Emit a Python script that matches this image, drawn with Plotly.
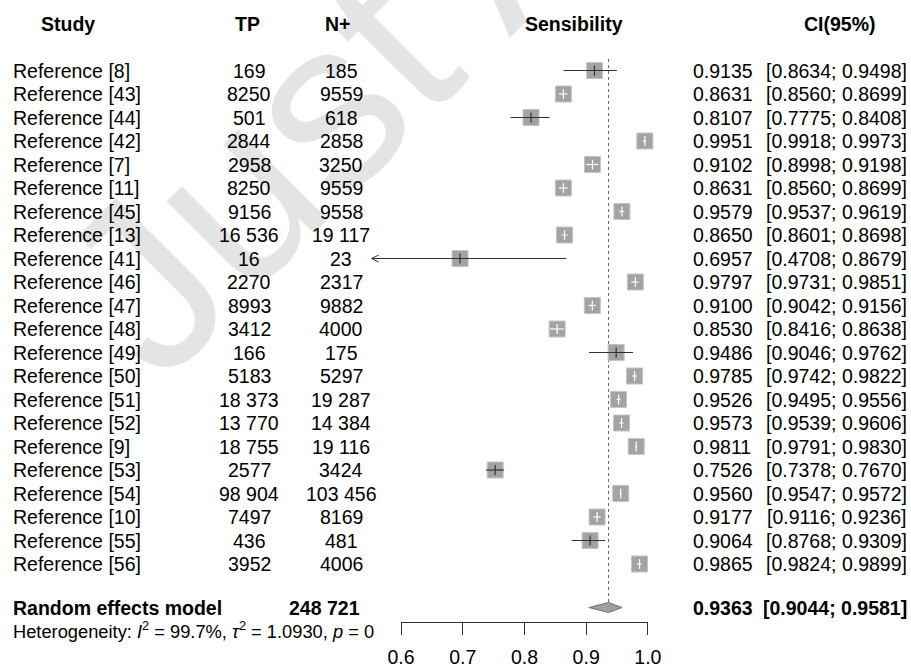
import plotly.graph_objects as go

# ---------------- data ----------------
studies = ["Reference [8]", "Reference [43]", "Reference [44]", "Reference [42]", "Reference [7]",
           "Reference [11]", "Reference [45]", "Reference [13]", "Reference [41]", "Reference [46]",
           "Reference [47]", "Reference [48]", "Reference [49]", "Reference [50]", "Reference [51]",
           "Reference [52]", "Reference [9]", "Reference [53]", "Reference [54]", "Reference [10]",
           "Reference [55]", "Reference [56]"]
tp = ["169", "8250", "501", "2844", "2958", "8250", "9156", "16 536", "16", "2270", "8993",
      "3412", "166", "5183", "18 373", "13 770", "18 755", "2577", "98 904", "7497", "436", "3952"]
n_pos = ["185", "9559", "618", "2858", "3250", "9559", "9558", "19 117", "23", "2317", "9882",
         "4000", "175", "5297", "19 287", "14 384", "19 116", "3424", "103 456", "8169", "481", "4006"]
sens = [0.9135, 0.8631, 0.8107, 0.9951, 0.9102, 0.8631, 0.9579, 0.8650, 0.6957, 0.9797, 0.9100,
        0.8530, 0.9486, 0.9785, 0.9526, 0.9573, 0.9811, 0.7526, 0.9560, 0.9177, 0.9064, 0.9865]
ci_lo = [0.8634, 0.8560, 0.7775, 0.9918, 0.8998, 0.8560, 0.9537, 0.8601, 0.4708, 0.9731, 0.9042,
         0.8416, 0.9046, 0.9742, 0.9495, 0.9539, 0.9791, 0.7378, 0.9547, 0.9116, 0.8768, 0.9824]
ci_hi = [0.9498, 0.8699, 0.8408, 0.9973, 0.9198, 0.8699, 0.9619, 0.8698, 0.8679, 0.9851, 0.9156,
         0.8638, 0.9762, 0.9822, 0.9556, 0.9606, 0.9830, 0.7670, 0.9572, 0.9236, 0.9309, 0.9899]
re_label = "Random effects model"
re_est, re_lo, re_hi = 0.9363, 0.9044, 0.9581
re_total = "248 721"
het_i2, het_tau2, het_p = "99.7%", "1.0930", "0"
tick_vals = [0.6, 0.7, 0.8, 0.9, 1.0]
headers = ["Study", "TP", "N+", "Sensibility", "CI(95%)"]
watermark = "Just Accepted"

# ---------------- geometry ----------------
W, H = 911, 668
X0_PX, PX_PER_UNIT = 401.0, 617.2      # pixel of 0.6, pixels per unit
ROW0_PX, ROW_PX = 70.5, 23.5           # pixel of first row, row pitch
XLIM_LO = 0.5525                        # lower clipping limit of the forest


def px2v(px):
    return 0.6 + (px - X0_PX) / PX_PER_UNIT


def px2row(py):
    return (py - ROW0_PX) / ROW_PX


x_range = [px2v(0), px2v(W)]
y_range = [px2row(H), px2row(0)]
rows = list(range(len(studies)))
re_row = px2row(607.5)
het_row = px2row(629.5)
head_row = px2row(23.5)
SQ = 16  # square size px
FS = 19.5
FONT = "Liberation Sans, Arial, Helvetica, sans-serif"

fig = go.Figure()

# reference dotted line at pooled estimate
dia_h = 5.0 / ROW_PX
fig.add_trace(go.Scatter(x=[re_est, re_est], y=[px2row(59), re_row - dia_h], mode="lines",
                         line=dict(color="#666666", width=1, dash="dot"), hoverinfo="skip"))

# squares
fig.add_trace(go.Scatter(x=sens, y=rows, mode="markers",
                         marker=dict(symbol="square", size=SQ, color="#a3a3a3",
                                     line=dict(color="#c4c4c4", width=1)), hoverinfo="skip"))

# CI lines: white if inside square, black otherwise
bx, by, wx, wy = [], [], [], []
btx, bty, wtx, wty = [], [], [], []
arrows_x, arrows_y = [], []
for r, e, lo, hi in zip(rows, sens, ci_lo, ci_hi):
    lo_c = max(lo, XLIM_LO)
    inside = (hi - lo) * PX_PER_UNIT < SQ
    if inside:
        wx += [lo_c, hi, None]; wy += [r, r, None]
        wtx.append(e); wty.append(r)
    else:
        bx += [lo_c, hi, None]; by += [r, r, None]
        btx.append(e); bty.append(r)
    if lo < XLIM_LO:
        dx = 7.0 / PX_PER_UNIT
        dy = 3.5 / ROW_PX
        arrows_x += [lo_c + dx, lo_c, lo_c + dx, None]
        arrows_y += [r - dy, r, r + dy, None]

fig.add_trace(go.Scatter(x=bx, y=by, mode="lines", line=dict(color="#333333", width=1.2),
                         hoverinfo="skip"))
fig.add_trace(go.Scatter(x=arrows_x, y=arrows_y, mode="lines", line=dict(color="#333333", width=1),
                         hoverinfo="skip"))
fig.add_trace(go.Scatter(x=wx, y=wy, mode="lines", line=dict(color="#ffffff", width=1.2),
                         hoverinfo="skip"))
fig.add_trace(go.Scatter(x=btx, y=bty, mode="markers",
                         marker=dict(symbol="line-ns", size=7, line=dict(color="#333333", width=1.2)),
                         hoverinfo="skip"))
fig.add_trace(go.Scatter(x=wtx, y=wty, mode="markers",
                         marker=dict(symbol="line-ns", size=7, line=dict(color="#ffffff", width=1.2)),
                         hoverinfo="skip"))

# diamond
fig.add_trace(go.Scatter(x=[re_lo, re_est, re_hi, re_est, re_lo],
                         y=[re_row, re_row - dia_h, re_row, re_row + dia_h, re_row],
                         mode="lines", fill="toself", fillcolor="#a0a0a0",
                         line=dict(color="#707070", width=1), hoverinfo="skip"))

# dummy trace for the bottom axis
fig.add_trace(go.Scatter(x=tick_vals, y=[-50] * len(tick_vals), xaxis="x2", yaxis="y",
                         mode="markers", marker=dict(opacity=0), hoverinfo="skip"))

ann = []
# watermark (behind text)
ann.append(dict(x=630 / W, y=1 + 200 / H, xref="paper", yref="paper", text=watermark,
                showarrow=False, textangle=-45, xanchor="center", yanchor="middle",
                font=dict(family=FONT, size=240, color="#e4e4e4")))


def txt(x_px, row, text, anchor, size=FS):
    ann.append(dict(x=x_px / W, xref="paper", y=row, yref="y", text=text, showarrow=False,
                    xanchor=anchor, yanchor="middle", font=dict(family=FONT, size=size, color="black")))


# headers
head_pos = [(68, "center"), (248, "center"), (337.5, "center"), (574, "center"), (840, "center")]
for h, (xp, an) in zip(headers, head_pos):
    txt(xp, head_row, "<b>%s</b>" % h, an)

for r, s, a, b, e, lo, hi in zip(rows, studies, tp, n_pos, sens, ci_lo, ci_hi):
    txt(11, r, s, "left")
    txt(249, r, a, "center")
    txt(341, r, b, "center")
    txt(691, r, "%.4f" % e, "left")
    txt(909, r, "[%.4f; %.4f]" % (lo, hi), "right")

txt(11, re_row, "<b>%s</b>" % re_label, "left")
txt(324.5, re_row, "<b>%s</b>" % re_total, "center")
txt(691, re_row, "<b>%.4f</b>" % re_est, "left")
txt(909, re_row, "<b>[%.4f; %.4f]</b>" % (re_lo, re_hi), "right")
txt(11, het_row, "Heterogeneity: <i>I</i><sup>2</sup> = %s, <i>τ</i><sup>2</sup> = %s, <i>p</i> = %s"
    % (het_i2, het_tau2, het_p), "left", size=18.3)

fig.update_layout(
    width=W, height=H, margin=dict(l=0, r=0, t=0, b=0, autoexpand=False),
    paper_bgcolor="white", plot_bgcolor="rgba(0,0,0,0)", showlegend=False,
    xaxis=dict(domain=[0, 1], range=x_range, visible=False, fixedrange=True),
    yaxis=dict(domain=[0, 1], range=y_range, visible=False, fixedrange=True),
    xaxis2=dict(domain=[X0_PX / W, (X0_PX + 0.4 * PX_PER_UNIT) / W], range=[0.6, 1.0],
                anchor="free", position=1 - 622 / H, tickvals=tick_vals,
                ticktext=["%.1f" % v for v in tick_vals], ticks="outside", ticklen=12,
                tickwidth=1, tickcolor="#333333", showline=True, linecolor="#333333", linewidth=1,
                showgrid=False, zeroline=False, ticklabelstandoff=6,
                tickfont=dict(family=FONT, size=FS, color="black"), fixedrange=True),
    annotations=ann,
)

fig.write_html("out.html")
